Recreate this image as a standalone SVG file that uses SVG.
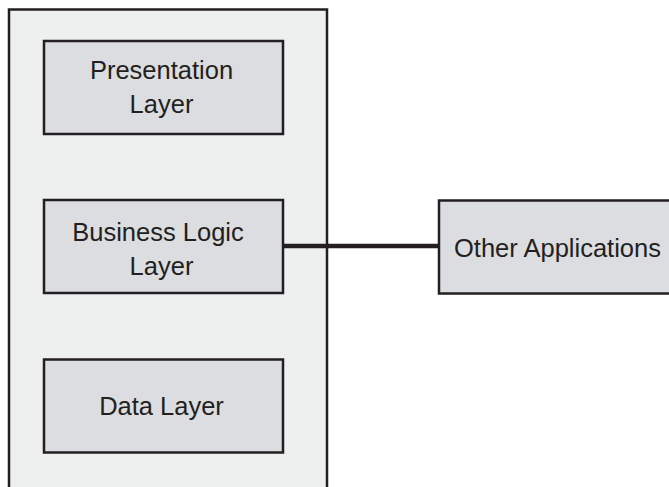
<svg xmlns="http://www.w3.org/2000/svg" width="669" height="487" viewBox="0 0 669 487">
<style>
.box{fill:#dcdde0;stroke:#231f20;stroke-width:2.5}
.t{font-family:"Liberation Sans",Arial,sans-serif;font-size:25.5px;fill:#231f20;text-anchor:middle}
</style>
<rect width="669" height="487" fill="#ffffff"/>
<g id="container">
<path d="M9,495 V9.5 H327 V495" fill="#eef0f0" stroke="#231f20" stroke-width="2.5"/>
</g>
<g id="connectors">
<line x1="283" y1="246" x2="438" y2="246" stroke="#231f20" stroke-width="4.5"/>
</g>
<g id="presentation">
<rect class="box" x="44" y="41" width="239" height="93"/>
<text class="t" x="161.5" y="79">Presentation</text>
<text class="t" x="161.5" y="113">Layer</text>
</g>
<g id="business">
<rect class="box" x="44" y="200" width="239" height="93"/>
<text class="t" x="158" y="241">Business Logic</text>
<text class="t" x="161.5" y="275">Layer</text>
</g>
<g id="data">
<rect class="box" x="44" y="359.5" width="239" height="93"/>
<text class="t" x="161.5" y="415">Data Layer</text>
</g>
<g id="other">
<rect class="box" x="439" y="200.5" width="250" height="93"/>
<text class="t" x="557.5" y="257">Other Applications</text>
</g>
</svg>
